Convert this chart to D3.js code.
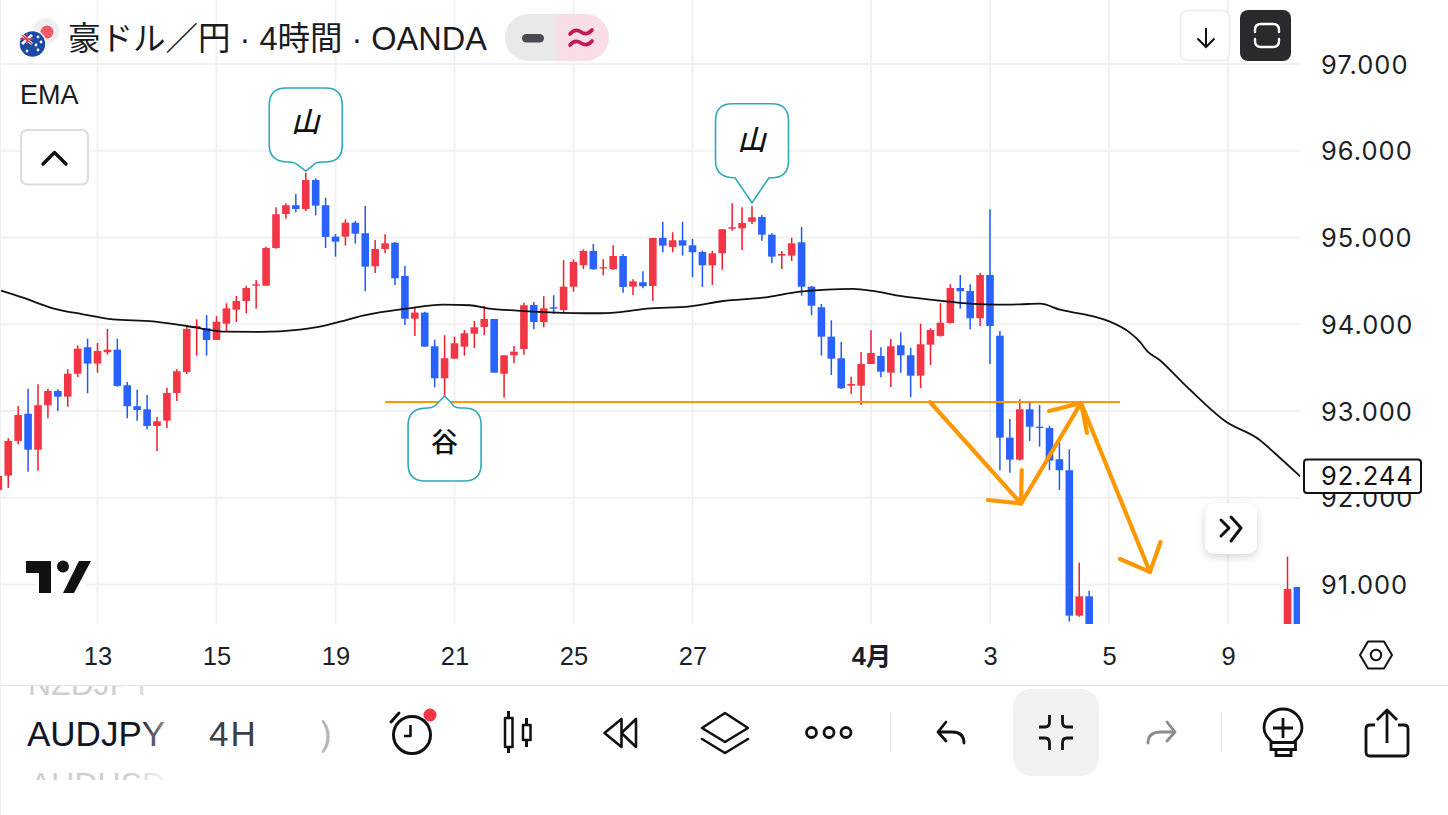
<!DOCTYPE html>
<html><head><meta charset="utf-8">
<script src="https://cdn.jsdelivr.net/npm/d3@7/dist/d3.min.js"></script>
<style>html,body{margin:0;padding:0;background:#fff;overflow:hidden}svg{display:block}
text{font-family:"Inter","Liberation Sans","Noto Sans CJK JP",sans-serif;fill:#131722}</style>
</head><body><div id="c"></div>
<script>
// ---- data ----
const barIndex = d3.range(0,111).concat([130,131]);
const highs = [92.274,92.686,93.058,93.257,93.308,93.257,93.250,93.481,93.758,93.834,93.784,93.946,93.834,93.335,93.246,93.185,92.931,93.269,93.481,93.972,
94.057,94.107,94.095,94.242,94.326,94.445,94.510,94.894,95.348,95.395,95.502,95.747,95.683,95.459,95.041,95.210,95.191,95.363,94.972,95.037,
94.948,94.672,94.203,94.145,93.822,93.873,93.857,93.934,94.038,94.211,94.061,93.642,93.750,94.249,94.257,94.323,94.334,94.738,94.749,94.864,
94.925,94.749,94.910,94.810,94.519,94.611,94.995,95.182,95.060,95.182,94.983,94.848,94.845,95.095,95.395,95.348,95.363,95.260,95.049,94.845,
94.998,95.121,94.441,94.234,94.046,93.796,93.396,93.681,93.931,93.735,93.830,93.908,93.730,94.007,93.954,94.242,94.461,94.568,94.461,94.595,
95.325,93.923,92.908,93.135,93.108,93.070,92.831,92.643,92.559,91.252,90.929,91.321,90.972];
const opens = [92.090,92.255,92.655,92.969,92.554,93.066,93.231,93.165,93.430,93.735,93.546,93.677,93.707,93.297,93.055,93.020,92.827,92.889,93.208,93.450,
93.957,93.954,93.819,94.007,94.168,94.268,94.445,94.445,94.879,95.271,95.372,95.329,95.663,95.372,95.010,95.010,95.171,95.049,94.668,94.868,
94.940,94.557,94.064,94.134,93.746,93.377,93.603,93.742,93.891,93.969,94.061,93.430,93.642,93.715,94.222,94.026,94.196,94.165,94.433,94.680,
94.845,94.645,94.634,94.787,94.433,94.484,94.441,94.995,94.891,94.968,94.910,94.833,94.680,94.818,95.102,95.106,95.182,95.237,95.033,94.791,
94.791,94.945,94.433,94.196,93.857,93.608,93.292,93.292,93.542,93.634,93.442,93.758,93.642,93.407,93.765,93.865,94.015,94.418,94.384,94.069,
94.568,93.868,92.693,92.439,93.020,92.819,92.804,92.444,92.317,90.641,90.864,90.130,90.972];
const closes = [92.251,92.655,92.954,92.554,93.066,93.231,93.165,93.430,93.719,93.546,93.692,93.707,93.289,93.055,93.012,92.827,92.882,93.208,93.458,93.946,
93.980,93.819,94.030,94.184,94.268,94.418,94.461,94.879,95.268,95.372,95.329,95.663,95.367,95.006,94.952,95.171,95.044,94.664,94.868,94.933,
94.530,94.064,94.134,93.742,93.377,93.608,93.781,93.896,93.965,94.061,93.442,93.642,93.684,94.219,94.026,94.184,94.180,94.433,94.718,94.845,
94.634,94.657,94.787,94.430,94.495,94.438,94.995,94.906,94.968,94.906,94.830,94.680,94.818,95.095,95.118,95.167,95.233,95.033,94.779,94.810,
94.933,94.433,94.214,93.857,93.603,93.262,93.312,93.542,93.669,93.453,93.746,93.642,93.407,93.769,93.934,94.018,94.418,94.380,94.069,94.568,
93.980,92.693,92.439,93.020,92.819,92.804,92.428,92.317,90.641,90.864,90.245,90.949,90.130];
const lows = [92.032,92.113,92.617,92.301,92.312,92.916,93.000,93.050,93.392,93.204,93.442,93.649,93.280,92.916,92.889,92.789,92.539,92.804,93.116,93.427,
93.638,93.638,93.819,93.919,94.026,94.127,94.180,94.445,94.871,95.217,95.291,95.306,95.256,94.879,94.779,94.906,94.929,94.380,94.591,94.818,
94.453,93.992,93.865,93.742,93.274,93.173,93.603,93.638,93.727,93.876,93.442,93.154,93.550,93.649,93.942,93.965,94.118,94.134,94.376,94.637,
94.626,94.565,94.626,94.364,94.337,94.415,94.268,94.830,94.830,94.791,94.542,94.430,94.453,94.629,95.079,94.856,95.156,94.963,94.703,94.637,
94.729,94.329,94.104,93.638,93.415,93.254,93.196,93.070,93.542,93.389,93.277,93.442,93.158,93.265,93.531,93.857,94.007,94.180,93.942,93.980,
93.542,92.317,92.289,92.428,92.655,92.589,92.317,92.090,90.572,90.629,90.130,89.990,90.000];

const emaIndex = [0.27,2.49,5.51,8.54,11.56,15.6,19,23.06,26.4,30.4,32.4,34.45,36.77,41.2,44.84,47.56,49.3,52.3,55.63,60.37,62.4,65.4,69.75,73.07,77.1,80.84,83.56,86.18,88.2,90.92,94.25,98.28,100.7,103,105.04,107.06,110.8,112.1,114.1,115.1,115.9,117.1,119.15,120.2,123.7,127.2,128.7,131.3];
const emaValue = [94.387,94.306,94.184,94.115,94.057,94.034,93.980,93.914,93.911,93.938,93.972,94.030,94.099,94.180,94.226,94.219,94.184,94.157,94.138,94.127,94.138,94.180,94.207,94.268,94.306,94.376,94.399,94.407,94.384,94.326,94.280,94.234,94.226,94.230,94.237,94.168,94.080,94.030,93.903,93.799,93.684,93.588,93.358,93.242,92.885,92.666,92.516,92.244];
const lastPrice = 92.244;

const priceTicks = [97,96,95,94,93,92,91];
const timeTickIndex = [10,22,34,46,58,70,88,100,112,124];
const timeTickLabels = ['13','15','19','21','25','27','4月','3','5','9'];

const levelIndex = [39,113.1];
const levelPrice = 93.104;
const zigzagIndex = [93.95,103.13,109.18,116.13];
const zigzagPrice = [93.104,91.934,93.093,91.145];
const headIndex = [[99.8,103.13,103.2],[105.95,109.18,109.78],[113.1,116.13,117.2]];
const headPrice = [[91.974,91.934,92.320],[93.000,93.093,92.747],[91.294,91.145,91.490]];

const noteText = ['山','山','谷'];
const noteBar = [31,76,45];
const notePrice = [95.766,95.401,93.173];

// ---- setup ----
const W=1448,H=815,paneR=1300,paneB=624;
const svg=d3.select('#c').append('svg').attr('width',W).attr('height',H).attr('viewBox',`0 0 ${W} ${H}`);
const x=d3.scaleLinear().domain([10,124]).range([97.5,1228]);
const y=d3.scaleLinear().domain([97,91]).range([64,584.5]);
const defs=svg.append('defs');
defs.append('clipPath').attr('id','pane').append('rect').attr('width',paneR).attr('height',paneB);
defs.append('clipPath').attr('id','wheelTop').append('rect').attr('y',686).attr('width',400).attr('height',30);
defs.append('clipPath').attr('id','wheelBot').append('rect').attr('y',762).attr('width',400).attr('height',18);
defs.append('clipPath').attr('id','parenClip').append('rect').attr('x',322).attr('y',700).attr('width',30).attr('height',70);
const fade=(id,a,b,c0)=>{const g=defs.append('linearGradient').attr('id',id).attr('gradientUnits','userSpaceOnUse').attr('x1',a).attr('x2',b).attr('y1',0).attr('y2',0);
 g.append('stop').attr('offset',0).attr('stop-color',c0);g.append('stop').attr('offset',1).attr('stop-color','#ffffff');};
fade('fadeSym',138,190,'#131722');
fade('fadeGhost',130,175,'#cfcfcf');
const sh=defs.append('filter').attr('id','sh').attr('x','-30%').attr('y','-30%').attr('width','160%').attr('height','170%');
sh.append('feDropShadow').attr('dx',0).attr('dy',3).attr('stdDeviation',4).attr('flood-color','#000').attr('flood-opacity',0.16);

// ---- grid ----
const grid=svg.append('g').attr('stroke','#f1f1f1').attr('stroke-width',2);
grid.selectAll('.h').data(priceTicks).join('line').attr('class','h').attr('x1',0).attr('x2',paneR).attr('y1',d=>y(d)).attr('y2',d=>y(d));
grid.selectAll('.v').data(timeTickIndex).join('line').attr('class','v').attr('x1',d=>x(d)).attr('x2',d=>x(d)).attr('y1',0).attr('y2',paneB);
svg.append('line').attr('x1',0.5).attr('x2',0.5).attr('y1',0).attr('y2',H).attr('stroke','#f0f0f0');

// ---- marks ----
const pane=svg.append('g').attr('clip-path','url(#pane)');
const UP='#f23645',DOWN='#2962ff',UPW='#f21c2a',DOWNW='#1f58ff';
const bars=barIndex.map((d,i)=>({i:d,o:opens[i],h:highs[i],l:lows[i],c:closes[i]}));
const bw=7.6;
const cg=pane.selectAll('g.bar').data(bars).join('g').attr('class','bar');
cg.append('line').attr('x1',d=>x(d.i)).attr('x2',d=>x(d.i)).attr('y1',d=>y(d.h)).attr('y2',d=>y(d.l))
  .attr('stroke',d=>d.c>=d.o?UPW:DOWNW).attr('stroke-width',1.5);
cg.append('rect').attr('x',d=>x(d.i)-bw/2).attr('width',bw)
  .attr('y',d=>y(Math.max(d.o,d.c))).attr('height',d=>Math.max(1.2,Math.abs(y(d.o)-y(d.c))))
  .attr('fill',d=>d.c>=d.o?UP:DOWN);

// EMA
pane.append('path').attr('fill','none').attr('stroke','#111').attr('stroke-width',1.8)
  .attr('d',d3.line().x(d=>x(d)).y((d,i)=>y(emaValue[i])).curve(d3.curveMonotoneX)(emaIndex));

// level + zigzag
const ORG='#ff9800';
pane.append('line').attr('x1',x(levelIndex[0])).attr('x2',x(levelIndex[1])).attr('y1',y(levelPrice)).attr('y2',y(levelPrice)).attr('stroke',ORG).attr('stroke-width',2);
const lineOf=(xs,ps)=>d3.line().x(d=>x(d)).y((d,i)=>y(ps[i]))(xs);
const anno=pane.append('g').attr('fill','none').attr('stroke',ORG).attr('stroke-width',4.2).attr('stroke-linecap','round').attr('stroke-linejoin','round');
anno.append('path').attr('d',lineOf(zigzagIndex,zigzagPrice));
headIndex.forEach((h,k)=>anno.append('path').attr('d',lineOf(h,headPrice[k])));

// callouts
function notePath(tx,ty,dir,neck,soft,left,right,h){
  const r=17,e=ty-dir*neck,f=e-dir*h,nw=17;
  const L=tx-left,R=tx+right;
  const sh1=soft?` L${tx+7} ${ty-dir*neck*0.6} Q${tx+9} ${e} ${tx+nw} ${e}`:` L${tx+nw} ${e}`;
  return `M${tx} ${ty}`+sh1+` H${R-r} Q${R} ${e} ${R} ${e-dir*r} V${f+dir*r} Q${R} ${f} ${R-r} ${f} H${L+r} Q${L} ${f} ${L} ${f+dir*r} V${e-dir*r} Q${L} ${e} ${tx-nw} ${e}`
    +(soft?` Q${tx-11} ${e} ${tx-7} ${ty-dir*neck*0.6} L${tx} ${ty}`:` L${tx} ${ty}`)+'Z';
}
const noteCfg=[{dir:1,neck:9,soft:true,h:74,dy:-49,it:true},{dir:1,neck:25,soft:false,h:74,dy:-63,it:true},{dir:-1,neck:12,soft:true,h:73,dy:46,it:false}];
noteText.forEach((t,k)=>{
  const c=noteCfg[k],tx=x(noteBar[k]),ty=y(notePrice[k]);
  pane.append('path').attr('d',notePath(tx,ty,c.dir,c.neck,c.soft,36.5,36.5,c.h)).attr('fill','#fff').attr('stroke','#2fa8b8').attr('stroke-width',1.6);
  pane.append('text').attr('x',c.it?tx-0.5:tx).attr('y',ty+c.dy+10).attr('text-anchor','middle')
    .style('font-family','"Noto Sans CJK JP"').style('font-size',c.it?'28px':'27px').style('font-weight',500).style('font-style',c.it?'italic':'normal').style('fill','#111').text(t);
});

// logo
const logo=svg.append('g');
logo.append('rect').attr('x',36).attr('y',578).attr('width',50).attr('height',13).attr('fill','#fff');
logo.append('path').attr('fill','#111').attr('d','M26 561H51V593H39V573H26Z M79 561H91L74 593H63Z');
logo.append('circle').attr('cx',63).attr('cy',566.5).attr('r',6).attr('fill','#111');

// ---- axes ----
const yAxis=d3.axisRight(y).tickValues(priceTicks).tickFormat(d3.format('.3f')).tickSize(0).tickPadding(0);
const ya=svg.append('g').attr('transform','translate(1321,0)').call(yAxis);
ya.select('.domain').remove();
ya.selectAll('text').attr('x',0).attr('dy','0.36em').style('font-size','25.5px').style('letter-spacing','1px').style('fill','#1b1f27').style('font-family','Inter');

const xAxis=d3.axisBottom(x).tickValues(timeTickIndex).tickFormat((d,i)=>timeTickLabels[i]).tickSize(0).tickPadding(0);
const xa=svg.append('g').attr('transform','translate(0,656)').call(xAxis);
xa.select('.domain').remove();
xa.selectAll('text').attr('y',0).attr('dy','0.36em').style('font-size','25.5px').style('fill','#1b1f27').style('font-family','"Liberation Sans","Noto Sans CJK JP"')
  .style('font-weight',(d,i)=>timeTickLabels[i]==='4月'?700:400);

// last price label
const ly=y(lastPrice);
svg.append('rect').attr('x',1304).attr('y',ly-17).attr('width',117).attr('height',33.5).attr('rx',3).attr('fill','#fff').attr('stroke','#111').attr('stroke-width',2);
svg.append('text').attr('x',1321).attr('y',ly-0.5).attr('dy','0.36em').style('font-size','25.5px').style('letter-spacing','1px').style('fill','#111').text(d3.format('.3f')(lastPrice));

// x axis border
svg.append('line').attr('x1',0).attr('x2',W).attr('y1',685.5).attr('y2',685.5).attr('stroke','#e6e6e6');

// ---- header ----
const hdr=svg.append('g');
hdr.append('circle').attr('cx',46).attr('cy',31).attr('r',13).attr('fill','#efefef');
hdr.append('circle').attr('cx',47).attr('cy',32).attr('r',6.5).attr('fill','#f25c6c');
hdr.append('circle').attr('cx',32.5).attr('cy',44).attr('r',14).attr('fill','#fff');
hdr.append('circle').attr('cx',32.5).attr('cy',44).attr('r',12.7).attr('fill','#1a4aa6');
hdr.append('path').attr('d','M22 35 L32 44 M32 35 L22 44').attr('stroke','#fff').attr('stroke-width',3);
hdr.append('path').attr('d','M22 35 L32 44 M27 33V44 M20 39H33').attr('stroke','#d8404f').attr('stroke-width',1.5);
[[38,37],[41,42],[36,45],[38,50],[27,51]].forEach(p=>hdr.append('circle').attr('cx',p[0]).attr('cy',p[1]).attr('r',1.4).attr('fill','#fff'));
hdr.append('text').attr('x',68).attr('y',49.5).style('font-family','"Liberation Sans","Noto Sans CJK JP"').style('font-size','32.5px').style('fill','#181b22').text('豪ドル／円 · 4時間 · OANDA');
hdr.append('path').attr('d','M557 14H528.5A23.5 23.5 0 0 0 528.5 61H557Z').attr('fill','#e9e9e9');
hdr.append('path').attr('d','M557 14H585.5A23.5 23.5 0 0 1 585.5 61H557Z').attr('fill','#f9dde7');
hdr.append('rect').attr('x',522).attr('y',34).attr('width',22).attr('height',8.5).attr('rx',4.2).attr('fill','#4a4b50');
hdr.append('path').attr('d','M570 34Q575 28 581 32T592 30 M570 45Q575 39 581 43T592 41').attr('fill','none').attr('stroke','#c21a55').attr('stroke-width',3.6).attr('stroke-linecap','round');
hdr.append('text').attr('x',20).attr('y',104).style('font-family','"Liberation Sans"').style('font-size','27px').style('fill','#181b22').text('EMA');
hdr.append('rect').attr('x',21).attr('y',130).attr('width',67).attr('height',54.5).attr('rx',6).attr('fill','#fff').attr('stroke','#dcdcdc').attr('stroke-width',2);
hdr.append('path').attr('d','M43 164L54.5 152.5L66 164').attr('fill','none').attr('stroke','#111').attr('stroke-width',3.4).attr('stroke-linecap','round').attr('stroke-linejoin','round');

// top right buttons
hdr.append('rect').attr('x',1180.5).attr('y',10.5).attr('width',49).attr('height',50).attr('rx',7).attr('fill','#fff').attr('stroke','#ececec').attr('stroke-width',1.5);
hdr.append('path').attr('d','M1206 28V47M1197.5 38.5L1206 47L1214.5 38.5').attr('fill','none').attr('stroke','#111').attr('stroke-width',2);
hdr.append('rect').attr('x',1240).attr('y',10).attr('width',51).attr('height',51).attr('rx',8).attr('fill','#2a2a2e');
hdr.append('path').attr('d','M1255 32V30Q1255 24 1261 24H1273Q1279 24 1279 30V32 M1255 39V41Q1255 47 1261 47H1273Q1279 47 1279 41V39').attr('fill','none').attr('stroke','#fff').attr('stroke-width',2.4).attr('stroke-linecap','round');

// forward button
hdr.append('rect').attr('x',1205).attr('y',503).attr('width',52).attr('height',51).attr('rx',10).attr('fill','#fff').attr('filter','url(#sh)');
hdr.append('path').attr('d','M1221 520L1229 528L1221 536 M1231 517L1241 528L1231 541').attr('fill','none').attr('stroke','#111').attr('stroke-width',3).attr('stroke-linecap','round').attr('stroke-linejoin','round');

// hex settings icon
const ic=svg.append('g').attr('fill','none').attr('stroke','#111').attr('stroke-linecap','round').attr('stroke-linejoin','round');
ic.append('path').attr('d','M1360 655L1368 641.5H1384L1392 655L1384 668.5H1368Z').attr('stroke-width',2);
ic.append('circle').attr('cx',1376).attr('cy',655).attr('r',5.2).attr('stroke-width',2);

// ---- toolbar ----
svg.append('text').attr('x',28).attr('y',695).attr('clip-path','url(#wheelTop)').attr('style','font-family:"Liberation Sans";font-size:32px;fill:url(#fadeGhost)').text('NZDJPY');
svg.append('text').attr('x',27).attr('y',746).attr('style','font-family:"Liberation Sans";font-size:35px;fill:url(#fadeSym)').text('AUDJPY');
svg.append('text').attr('x',30).attr('y',795).attr('clip-path','url(#wheelBot)').attr('style','font-family:"Liberation Sans";font-size:32px;fill:url(#fadeGhost)').text('AUDUSD');
svg.append('text').attr('x',209).attr('y',746).attr('style','font-family:"Liberation Sans";font-size:35px;letter-spacing:2px;fill:#3c3f46').text('4H');
svg.append('text').attr('x',320).attr('y',746).attr('clip-path','url(#parenClip)').attr('style','font-family:"Liberation Sans";font-size:35px;fill:#b5b5b5').text(')');

// alarm
ic.append('circle').attr('cx',412).attr('cy',735).attr('r',18.5).attr('stroke-width',3);
ic.append('path').attr('d','M410.5 725V736H404').attr('stroke-width',2.6).attr('stroke-linecap','butt');
ic.append('path').attr('d','M391 722L399 713').attr('stroke-width',3);
svg.append('circle').attr('cx',430).attr('cy',715).attr('r',6.5).attr('fill','#f23645');
// candle icon
ic.append('path').attr('d','M508.5 711V718M508.5 747V753M526.5 718V725M526.5 740V747').attr('stroke-width',3).attr('stroke-linecap','butt');
ic.append('rect').attr('x',505).attr('y',718).attr('width',7.5).attr('height',29).attr('stroke-width',2.5);
ic.append('rect').attr('x',523).attr('y',725).attr('width',7.5).attr('height',15).attr('stroke-width',2.5);
// rewind
ic.append('path').attr('d','M604.5 733L621.5 719V747Z M621.5 733L636 719V747L621.5 733').attr('stroke-width',2.6);
// layers
ic.append('path').attr('d','M702 728L725 713L748 728L725 742Z').attr('stroke-width',2.6);
ic.append('path').attr('d','M702 739L725 753L748 739').attr('stroke-width',2.6);
// dots
[811.5,829,846].forEach(cx=>ic.append('circle').attr('cx',cx).attr('cy',732.5).attr('r',5).attr('stroke-width',2.8));
// separators
svg.append('g').attr('stroke','#e8e8e8').selectAll('line').data([890.5,1221.5]).join('line').attr('x1',d=>d).attr('x2',d=>d).attr('y1',713).attr('y2',752);
// undo
ic.append('path').attr('d','M946 722L938 732L946 741M938 732H952Q964 732 964 743').attr('stroke-width',2.8);
// tile
svg.append('rect').attr('x',1013).attr('y',689).attr('width',86).attr('height',87).attr('rx',18).attr('fill','#f2f2f2');
const ic2=svg.append('g').attr('fill','none').attr('stroke','#111').attr('stroke-width',2.8).attr('stroke-linecap','butt');
ic2.append('path').attr('d','M1049.5 715V722Q1049.5 727 1045 727H1039 M1062.5 715V722Q1062.5 727 1067 727H1073 M1039 738H1045Q1049.5 738 1049.5 743V750 M1073 738H1067Q1062.5 738 1062.5 743V750');
// redo
svg.append('path').attr('d','M1167 722L1175 732L1167 741M1175 732H1161Q1148 732 1148 743').attr('fill','none').attr('stroke','#8d8d8d').attr('stroke-width',2.8).attr('stroke-linecap','round').attr('stroke-linejoin','round');
// bulb
ic2.append('path').attr('d','M1272 742C1268 738 1264 734 1264 728A19 19 0 1 1 1302 728C1302 734 1298 738 1294 742');
ic2.append('path').attr('d','M1271 742.5H1295.5V749.5H1271Z M1276 749.5V755.5H1291V749.5 M1283 718V738 M1273 728H1293');
// share
ic2.append('path').attr('stroke-linejoin','round').attr('d','M1375 725H1370Q1366 725 1366 729V752Q1366 756 1370 756H1404Q1408 756 1408 752V729Q1408 725 1404 725H1398 M1387 743V710 M1377 720L1387 710L1397 720');
</script></body></html>
